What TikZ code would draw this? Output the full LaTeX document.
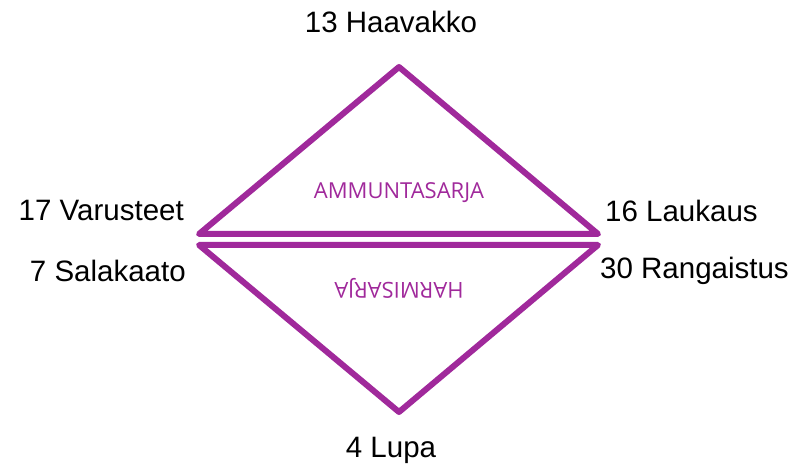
\documentclass[tikz,border=0pt]{standalone}
\usepackage{xcolor}
\usepackage{fontspec}
\setmainfont{Liberation Sans}
\newfontfamily\seriesfont{Open Sans}
\usepackage{tikz}
\usetikzlibrary{positioning}
\definecolor{sarjapurple}{RGB}{160,41,155}
\tikzset{
  sarjaline/.style={draw=sarjapurple,line width=6pt,line join=round},
  cornerlabel/.style={font=\fontsize{29.5}{32}\selectfont,inner sep=0pt},
  serieslabel/.style={font=\seriesfont\fontsize{22}{24}\selectfont,text=sarjapurple,inner sep=0pt}
}

\begin{document}
\begin{tikzpicture}[x=1pt,y=-1pt]%
    \useasboundingbox (0,0) rectangle (801,470);
    % upper triangle
    \coordinate (top) at (399,67);
    \coordinate (ul) at (199,234);
    \coordinate (ur) at (598,234);
    % lower triangle
    \coordinate (ll) at (199,245);
    \coordinate (lr) at (598,245);
    \coordinate (bottom) at (399,412);
    \draw[sarjaline] (top) -- (ur) -- (ul) -- cycle;
    \draw[sarjaline] (ll) -- (lr) -- (bottom) -- cycle;
    \node[serieslabel] (ammunta) at (399,193) {AMMUNTASARJA};
    \node[serieslabel,rotate=180] (harmi) at (399,288) {HARMISARJA};
    \node[cornerlabel] (haavakko) at (391,22) {13 Haavakko};
    \node[cornerlabel,anchor=east] (varusteet) at (184,210) {17 Varusteet};
    \node[cornerlabel,anchor=east] (salakaato) at (186,271) {7 Salakaato};
    \node[cornerlabel,anchor=west] (laukaus) at (605,211) {16 Laukaus};
    \node[cornerlabel,anchor=west] (rangaistus) at (600,271) {30 Rangaistus};
    \node[cornerlabel] (lupa) at (391,450) {4 Lupa};
  \end{tikzpicture}
\end{document}
